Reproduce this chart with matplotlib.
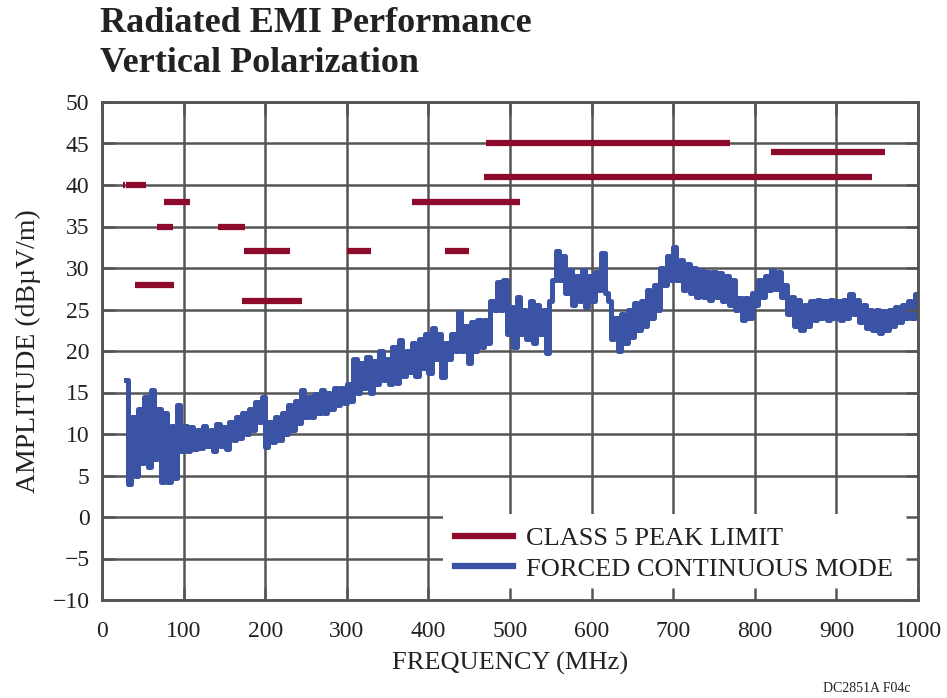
import numpy as np
import matplotlib
matplotlib.use("Agg")
import matplotlib.pyplot as plt
from matplotlib.patches import Rectangle
from matplotlib.lines import Line2D

plt.rcParams['font.family'] = ['Liberation Serif', 'DejaVu Serif']

# Class 5 peak limit segments: (start MHz, stop MHz, level dBuV/m)
limit_start = [26, 30, 41, 68, 76, 142, 171, 174, 300, 380, 420, 468, 470, 820]
limit_stop = [28, 54, 88, 87, 108, 175, 245, 230, 330, 512, 450, 944, 770, 960]
limit_level = [40, 40, 28, 35, 38, 35, 26, 32, 32, 38, 32, 41, 45, 44]

# Measured emission, forced continuous mode (sweep from 30 MHz, 4 MHz steps)
f_start = 30
f_step = 4
amplitude = [
    16.5, 4.0, 12, 5, 13, 6.5, 14.5, 6, 15.3, 7, 13, 4.2, 12.5, 4.2, 11, 4.7, 13.5, 8,
    11, 8, 10.8, 8.2, 10.5, 8.3, 11, 8.5, 10.5, 8, 11.2, 8.5, 10.8, 8.2, 11.5, 9.3,
    12, 9.5, 12.5, 10, 13, 10.5, 13.8, 11.5, 14.5, 8.4, 11.5, 9, 12, 9.3, 12.5, 10,
    13.5, 10.5, 14, 11.3, 15.3, 12, 14.5, 12, 14.8, 12.5, 15.3, 12.5, 15, 13, 15.5, 13.5,
    15.5, 13.7, 16, 14, 19, 15, 18.5, 15.5, 19.3, 15, 18.8, 16, 20, 16.5, 19, 16,
    20.5, 16.2, 21.3, 17, 20, 17.5, 21, 17, 21.5, 18, 22, 17.4, 22.8, 19, 22, 16.9,
    21, 19, 22, 20, 24.7, 20, 23, 18.5, 23.5, 20, 23.7, 20.5, 23.7, 21, 26, 25,
    28.3, 25, 28.5, 22, 25.3, 20.5, 26.5, 22, 25, 21.5, 26, 21, 25.5, 22, 25, 19.8,
    26, 28.5, 32, 28.5, 31.5, 27, 29.8, 25.5, 29, 26, 29.8, 25.3, 29, 26, 29.5, 27.3,
    31.8, 27, 26, 21.5, 24, 20, 24.5, 21, 25, 21.7, 25.8, 22.5, 26, 23, 27.3, 24,
    28, 25, 30, 28, 31.5, 28.5, 32.5, 28.5, 31, 27.3, 30.5, 27, 30, 26.5, 29.8, 26.5,
    29.5, 26.1, 29.5, 26.5, 29.4, 26, 29, 25.5, 28.5, 25, 26.4, 23.7, 26.4, 24, 27, 25.5,
    28.5, 26.5, 29, 27.3, 29.8, 27.5, 29.5, 26.5, 28, 24.5, 26.5, 23, 26.1, 22.5, 25.5, 23,
    26, 23.7, 26.1, 24, 26, 23.7, 26.2, 24, 26, 23.7, 26.1, 24, 26.9, 24.5, 26.2, 23.5,
    25.5, 22.8, 25, 22.5, 25, 22.2, 24.8, 22.5, 25, 23, 25.3, 23.5, 25.5, 24, 26, 24,
    26.9,
]
freq = f_start + f_step * np.arange(len(amplitude))

x_ticks = [0, 100, 200, 300, 400, 500, 600, 700, 800, 900, 1000]
y_ticks = [50, 45, 40, 35, 30, 25, 20, 15, 10, 5, 0, -5, -10]
y_tick_labels = ['50', '45', '40', '35', '30', '25', '20', '15', '10', '5', '0', '\u22125', '\u221210']

RED = '#8E0A2C'
BLUE = '#3A53A4'
GRID = '#555555'
TXT = '#222222'

fig = plt.figure(figsize=(9.47, 6.98), dpi=100)
pos = [102 / 947, 98 / 698, 816 / 947, 498 / 698]
ax = fig.add_axes(pos)
ax.set_xlim(0, 1000)
ax.set_ylim(-10, 50)
ax.set_axisbelow(True)
ax.grid(True, color=GRID, linewidth=1.8)
ax.set_xticks(x_ticks)
ax.set_yticks(y_ticks)
ax.set_yticklabels(y_tick_labels)
ax.tick_params(axis='x', direction='in', length=0, labelsize=17, pad=15, colors=TXT)
ax.tick_params(axis='y', direction='in', length=0, labelsize=17, pad=9, colors=TXT)
for s in ax.spines.values():
    s.set_color(GRID)
    s.set_linewidth(1.8)

# white panel behind legend
ax.add_patch(Rectangle((418, -10), 582, 10.4, facecolor='white', edgecolor='none', zorder=1))

for a, b, lv in zip(limit_start, limit_stop, limit_level):
    ax.plot([a, b], [lv, lv], color=RED, linewidth=4.5, solid_capstyle='butt', zorder=3)

ax.plot(freq, amplitude, color=BLUE, linewidth=3.6, drawstyle='steps-mid', zorder=2.5)

handles = [Line2D([], [], color=RED, linewidth=4.5),
           Line2D([], [], color=BLUE, linewidth=4.5)]
leg = ax.legend(handles, ['CLASS 5 PEAK LIMIT', 'FORCED CONTINUOUS MODE'],
                loc='upper left', bbox_to_anchor=((455 - 102) / 816, (600 - 527) / 498),
                frameon=False, borderpad=0, borderaxespad=0,
                fontsize=19, handlelength=2.2, handletextpad=0.5, labelspacing=0.25,
                labelcolor=TXT)

ax.set_xlabel('FREQUENCY (MHz)', fontsize=19, color=TXT, labelpad=7)
ax.set_ylabel('AMPLITUDE (dB\u00b5V/m)', fontsize=20, color=TXT, labelpad=8)

# overlay for inward ticks on all four sides
ov = fig.add_axes(pos, sharex=ax, sharey=ax, zorder=5)
ov.patch.set_alpha(0)
ov.tick_params(direction='in', length=9, width=1.8, color=GRID,
               top=True, right=True, labelbottom=False, labelleft=False)
for s in ov.spines.values():
    s.set_color(GRID)
    s.set_linewidth(1.8)

fig.text(100 / 947, 1 - 23 / 698, 'Radiated EMI Performance', fontsize=26, fontweight='bold',
         color=TXT, va='center', ha='left')
fig.text(100 / 947, 1 - 64 / 698, 'Vertical Polarization', fontsize=26, fontweight='bold',
         color=TXT, va='center', ha='left')
fig.text(910 / 947, 1 - 689 / 698, 'DC2851A F04c', fontsize=10, color=TXT,
         ha='right', va='center')

fig.savefig('out.png', dpi=100)
